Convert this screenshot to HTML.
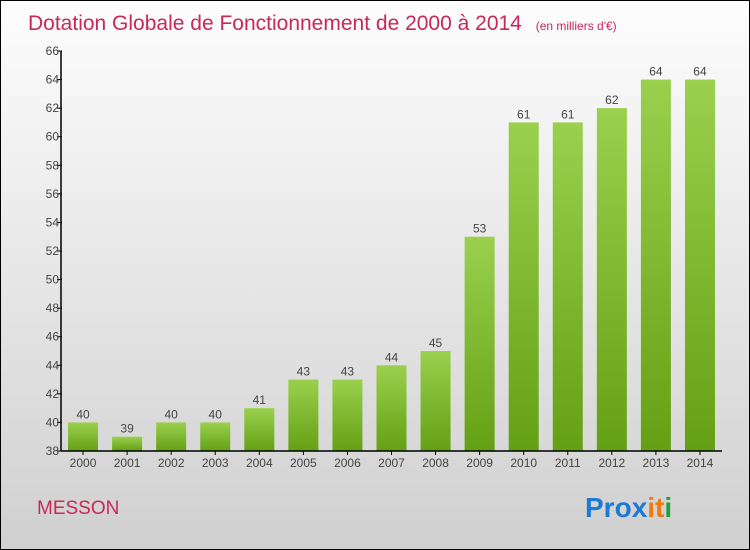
<!DOCTYPE html>
<html><head><meta charset="utf-8"><style>
body{margin:0}
#c{width:748px;height:548px;border:1px solid #000;background:linear-gradient(#fdfdfd,#d0d0d0);position:relative;overflow:hidden;font-family:"Liberation Sans",sans-serif}
</style></head><body>
<div id="c">
<svg id="s" width="748" height="548">
<defs><linearGradient id="g" x1="0" y1="0" x2="0" y2="1"><stop offset="0" stop-color="#9ad04e"/><stop offset="1" stop-color="#64a014"/></linearGradient></defs>
<text x="27" y="29" font-size="21" fill="#c8285a">Dotation Globale de Fonctionnement de 2000 à 2014 <tspan font-size="12" dx="8">(en milliers d'€)</tspan></text>
<text x="36" y="513" font-size="19" fill="#c8285a">MESSON</text>
<text x="584" y="516" font-size="28" font-weight="bold"><tspan fill="#1a7ad6">Pro</tspan><tspan fill="#1a7ad6">x</tspan><tspan fill="#f07a10">i</tspan><tspan fill="#f07a10">t</tspan><tspan fill="#20a040">i</tspan></text>
<g id="plot"></g>
</svg></div>
<script>
const years=["2000","2001","2002","2003","2004","2005","2006","2007","2008","2009","2010","2011","2012","2013","2014"];
const values=[40,39,40,40,41,43,43,44,45,53,61,61,62,64,64];
const yTicks=[38,40,42,44,46,48,50,52,54,56,58,60,62,64,66];
const NS="http://www.w3.org/2000/svg",p=document.getElementById('plot');
const x0=60,x1=721,yTop=50,yBot=450,ymin=38,ymax=66;
const bw=(x1-x0)/years.length;
const Y=v=>yBot-(v-ymin)/(ymax-ymin)*(yBot-yTop);
function el(t,a){const e=document.createElementNS(NS,t);for(const k in a)e.setAttribute(k,a[k]);p.appendChild(e);return e;}
yTicks.forEach(t=>{
 const l=el('line',{x1:x0-4,x2:x0+1,y1:Y(t),y2:Y(t),stroke:'#000'});
 
 
 const tx=el('text',{x:x0-2,y:Y(t)+4,'font-size':12,fill:'#444','text-anchor':'end'});tx.textContent=t;
 
 
});
years.forEach((y,i)=>{
 const cx=x0+bw*(i+.5),v=values[i];
 const r=el('rect',{x:cx-15,y:Y(v),width:30,height:yBot-Y(v),fill:'url(#g)'});
 
 
 const vt=el('text',{x:cx,y:Y(v)-4,'font-size':12,fill:'#444','text-anchor':'middle'});vt.textContent=v;
 
 
 const tk=el('line',{x1:cx,x2:cx,y1:yBot,y2:yBot+4,stroke:'#000'});
 
 
 const xt=el('text',{x:cx,y:yBot+16,'font-size':12,fill:'#444','text-anchor':'middle'});xt.textContent=y;
 
 
});
const ya=el('line',{x1:x0,x2:x0,y1:yTop,y2:yBot,stroke:'#000','stroke-width':1.5});


const xa=el('line',{x1:x0,x2:x1,y1:yBot,y2:yBot,stroke:'#000','stroke-width':1.5});


</script>
</body></html>
